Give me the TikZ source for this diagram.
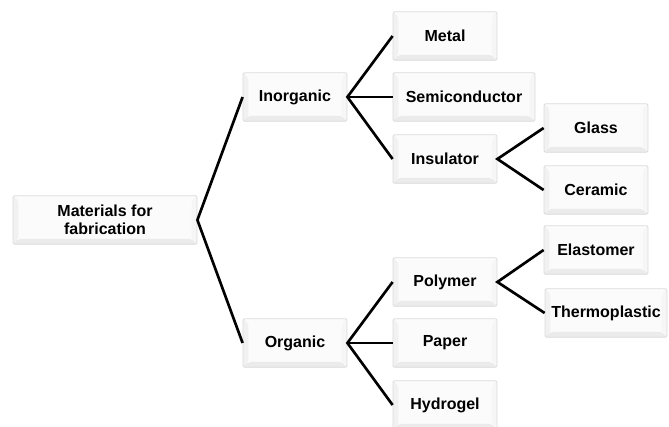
\documentclass[tikz,border=0pt]{standalone}
\usepackage{fontspec}
\setmainfont{Liberation Sans}
\usepackage{tikz}

\begin{document}
\begin{tikzpicture}[x=0.75pt,y=-0.75pt,
    box/.style={draw=gray!28,line width=0.6pt,fill=gray!3,rounded corners=1.5pt,
        minimum width=78pt,minimum height=36.5pt,inner sep=1pt,
        font=\fontsize{12}{13.5}\selectfont\bfseries,align=center,
        path picture={
            \fill[gray!16] (path picture bounding box.south west) -- ++(4pt,4pt)
                -- ([xshift=-4pt,yshift=4pt]path picture bounding box.south east)
                -- (path picture bounding box.south east) -- cycle;
            \fill[gray!11] (path picture bounding box.south west) -- ++(4pt,4pt)
                -- ([xshift=4pt,yshift=-4pt]path picture bounding box.north west)
                -- (path picture bounding box.north west) -- cycle;
            \fill[gray!7] (path picture bounding box.south east) -- ++(-4pt,4pt)
                -- ([xshift=-4pt,yshift=-4pt]path picture bounding box.north east)
                -- (path picture bounding box.north east) -- cycle;}},
    link/.style={line width=2pt,black}]
    \useasboundingbox (0,0) rectangle (669,427);

    % Root and first level
    \node[box,minimum width=138pt] (root) at (105,220) {Materials for\\fabrication};
    \node[box] (inorg) at (295,97) {Inorganic};
    \node[box] (org) at (295,343) {Organic};

    % Inorganic branch
    \node[box] (metal) at (445,36) {Metal};
    \node[box,minimum width=106.5pt] (semi) at (464,97) {Semiconductor};
    \node[box] (insul) at (445,159) {Insulator};
    \node[box] (glass) at (596,128) {Glass};
    \node[box] (ceram) at (596,190) {Ceramic};

    % Organic branch
    \node[box] (poly) at (445,282) {Polymer};
    \node[box] (paper) at (445,343) {Paper};
    \node[box] (hydro) at (445,405) {Hydrogel};
    \node[box] (elast) at (596,250) {Elastomer};
    \node[box,minimum width=91.5pt] (thermo) at (606,313) {Thermoplastic};

    % Connectors
    \draw[link] (inorg.west) -- (root.east) -- (org.west);
    \draw[link] (metal.west) -- (inorg.east) -- (insul.west);
    \draw[link] (inorg.east) -- (semi.west);
    \draw[link] (glass.west) -- (insul.east) -- (ceram.west);
    \draw[link] (poly.west) -- (org.east) -- (hydro.west);
    \draw[link] (org.east) -- (paper.west);
    \draw[link] (elast.west) -- (poly.east) -- (thermo.west);
\end{tikzpicture}
\end{document}
